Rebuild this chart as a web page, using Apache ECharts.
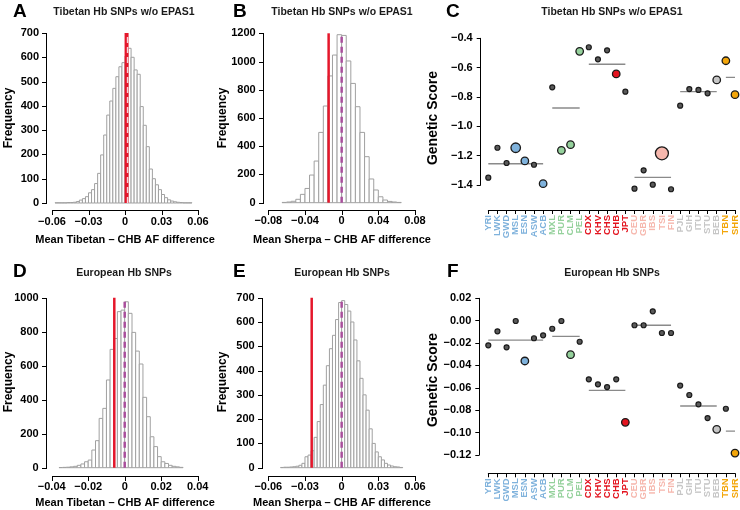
<!DOCTYPE html>
<html><head><meta charset="utf-8">
<script src="https://cdn.jsdelivr.net/npm/echarts@6/dist/echarts.min.js"></script>
<style>html,body{margin:0;padding:0;background:#fff}#c{width:740px;height:510px}</style>
</head><body><div id="c"></div>
<script>
// ---------------- DATA ----------------
// Histogram A: Mean Tibetan - CHB AF difference (Tibetan Hb SNPs w/o EPAS1)
const histAStart = -0.0575, histABin = 0.0025;
const histACounts = [1,1,1,1,2,2,3,6,12,18,26,42,55,80,122,198,280,362,420,472,520,561,578,605,637,600,548,530,397,320,232,140,100,75,55,35,22,13,8,5,3,2,1,1,1];
const histAObserved = 0.0013, histANullMean = 0.0021;
const histAXTicks = [-0.06,-0.03,0,0.03,0.06], histAYTicks = [0,100,200,300,400,500,600,700];
// Histogram B: Mean Sherpa - CHB AF difference
const histBStart = -0.065, histBBin = 0.005;
const histBCounts = [2,5,10,24,59,101,196,295,498,685,898,1046,1190,1185,1004,845,680,498,326,168,90,42,19,9,5,2];
const histBObserved = -0.0142, histBNullMean = 0.0;
const histBXTicks = [-0.08,-0.04,0,0.04,0.08], histBYTicks = [0,200,400,600,800,1000,1200];
// Histogram D: Mean Tibetan - CHB AF difference (European Hb SNPs)
const histDStart = -0.036, histDBin = 0.002;
const histDCounts = [1,2,3,5,8,14,22,35,45,104,159,290,349,516,696,760,918,927,976,908,796,686,610,414,300,182,124,65,35,25,14,8,5,2];
const histDObserved = -0.0057, histDNullMean = 0.0;
const histDXTicks = [-0.04,-0.02,0,0.02,0.04], histDYTicks = [0,200,400,600,800,1000];
// Histogram E: Mean Sherpa - CHB AF difference (European Hb SNPs)
const histEStart = -0.05, histEBin = 0.0025;
const histECounts = [1,2,2,3,4,6,10,18,45,52,70,125,190,260,340,420,490,545,610,680,688,672,645,600,526,440,368,300,237,160,100,65,45,32,18,11,7,4,3,1];
const histEObserved = -0.0245, histENullMean = 0.0;
const histEXTicks = [-0.06,-0.03,0,0.03,0.06], histEYTicks = [0,100,200,300,400,500,600,700];

// Populations
const populations = ['YRI','LWK','GWD','MSL','ESN','ASW','ACB','MXL','PUR','CLM','PEL','CDX','KHV','CHS','CHB','JPT','CEU','GBR','IBS','TSI','FIN','PJL','GIH','ITU','STU','BEB','TBN','SHR'];
const popGroup = [0,0,0,0,0,0,0,1,1,1,1,2,2,2,2,2,3,3,3,3,3,4,4,4,4,4,5,5];
const groupColors = ['#7fb2dc','#95d19c','#e3141f','#f6b7ad','#c6c6c6','#f3a60a'];

// Panel C: genetic score, Tibetan Hb SNPs w/o EPAS1
const scoreC = [-1.350,-1.146,-1.250,-1.146,-1.236,-1.262,-1.391,-0.734,-1.164,-1.125,-0.489,-0.461,-0.543,-0.482,-0.643,-0.764,-1.425,-1.300,-1.398,-1.184,-1.429,-0.859,-0.746,-0.752,-0.775,-0.684,-0.553,-0.784];
const markerClassC = [0,0,0,2,1,0,1,0,1,1,1,0,0,0,1,0,0,0,0,3,0,0,0,0,0,1,1,1];
const groupMeanC = [-1.255,-0.875,-0.577,-1.348,-0.764,-0.666];

// Panel F: genetic score, European Hb SNPs
const scoreF = [-0.0220,-0.0095,-0.0238,-0.0003,-0.0360,-0.0157,-0.0131,-0.0072,-0.0003,-0.0304,-0.0188,-0.0524,-0.0569,-0.0593,-0.0524,-0.0908,-0.0041,-0.0041,0.0084,-0.0110,-0.0110,-0.0580,-0.0664,-0.0747,-0.0870,-0.0971,-0.0787,-0.1183];
const markerClassF = [0,0,0,0,1,0,0,0,0,1,0,0,0,0,0,1,0,0,0,0,0,0,0,0,0,1,0,1];
const groupMeanF = [-0.0173,-0.0140,-0.0622,-0.0041,-0.0762,-0.0986];

// ---------------- CHART ----------------
const FONT = '"Liberation Sans", Arial, Helvetica, sans-serif';
const minus = s => String(s).replace('-', '\u2212');
const chart = echarts.init(document.getElementById('c'), null, {renderer:'canvas'});

const boxA = {left:52, top:33, width:146, height:170};
const boxB = {left:268.3, top:33.3, width:146.7, height:169.4};
const boxC = {left:488.3, top:38.3, width:247.7, height:146.7};
const boxD = {left:51.7, top:297.7, width:146, height:170};
const boxE = {left:268.3, top:297.7, width:146.7, height:170};
const boxF = {left:488.3, top:298.3, width:247.7, height:156.7};

// Histogram data grids are widened to the left and bottom so the detached R-style axes
// fall inside them; their scales are extended by the same amount so the bars keep the
// exact pixel mapping of the labelled axis grids.
const EXT_L = 14, EXT_B = 16;
function extend(box, xt, yt) {
  const x0 = xt[0], x1 = xt[xt.length-1], y0 = yt[0], y1 = yt[yt.length-1];
  return {
    grid:{left:box.left - EXT_L, top:box.top, width:box.width + EXT_L, height:box.height + EXT_B},
    xmin: x0 - EXT_L * (x1 - x0) / box.width, xmax: x1,
    ymin: y0 - EXT_B * (y1 - y0) / box.height, ymax: y1
  };
}
const extA = extend(boxA, histAXTicks, histAYTicks);
const extB = extend(boxB, histBXTicks, histBYTicks);
const extD = extend(boxD, histDXTicks, histDYTicks);
const extE = extend(boxE, histEXTicks, histEYTicks);

// grids 0..5 data, grids 6..9 labelled axes for the histograms
const grids = [extA.grid, extB.grid, Object.assign({}, boxC), extD.grid, extE.grid, Object.assign({}, boxF),
  Object.assign({}, boxA), Object.assign({}, boxB), Object.assign({}, boxD), Object.assign({}, boxE)];

const mkLine = () => ({show:true, onZero:false, lineStyle:{color:'#000', width:1}});
const mkTick = () => ({show:true, length:4, inside:false, lineStyle:{color:'#000', width:1}});
const mkLbl = (extra) => Object.assign({show:true, color:'#000', fontFamily:FONT, fontWeight:'bold', fontSize:11}, extra);

function hiddenAxis(gi, min, max) {
  return {type:'value', gridIndex:gi, min, max, show:false, splitLine:{show:false},
    axisLine:{show:false, onZero:false}, axisTick:{show:false}, axisLabel:{show:false}};
}
function labelAxis(gi, ticks, offset, fmt, margin) {
  return {type:'value', gridIndex:gi, min:ticks[0], max:ticks[ticks.length-1],
    interval: ticks[1]-ticks[0], offset,
    axisLine:{show:false, onZero:false}, axisTick:{show:false}, splitLine:{show:false},
    axisLabel:mkLbl({margin, formatter: fmt})};
}
function valAxis(gi, min, max, interval, offset, fmt, margin) {
  return {type:'value', gridIndex:gi, min, max, interval, offset,
    axisLine:mkLine(), axisTick:mkTick(), splitLine:{show:false},
    axisLabel:mkLbl({margin: margin || 6, formatter: fmt})};
}
const fmtHist = v => minus(parseFloat(Number(v).toFixed(4)));
const fmtInt = v => String(v);

function histSeries(gi, start, bin, counts) {
  return {
    type:'custom', xAxisIndex:gi, yAxisIndex:gi, silent:true, clip:false,
    data: counts.map((c,i) => [start + i*bin, c, start + (i+1)*bin]),
    renderItem: (params, api) => {
      const p0 = api.coord([api.value(0), 0]);
      const p1 = api.coord([api.value(2), api.value(1)]);
      return {type:'rect',
        shape:{x:p0[0], y:p1[1], width:p1[0]-p0[0], height:p0[1]-p1[1]},
        style:{fill:'#fff', stroke:'#a0a0a0', lineWidth:1}};
    }
  };
}
// detached axis lines and ticks, drawn as thin filled rects through the grid's scales
function axisSeries(gi, xt, yt, xo, yo) {
  const items = [];
  items.push([xt[0], yt[0], 0, 0]);               // x axis line
  xt.forEach(t => items.push([xt[0], yt[0], t, 1])); // x ticks
  items.push([xt[0], yt[0], 0, 2]);               // y axis line
  yt.forEach(t => items.push([xt[0], yt[0], t, 3])); // y ticks
  return {type:'custom', xAxisIndex:gi, yAxisIndex:gi, silent:true, clip:false, z:10,
    data: items,
    renderItem: (params, api) => {
      const t = api.value(2), kind = api.value(3);
      const o = api.coord([xt[0], yt[0]]);
      const yl = Math.round(o[1] + xo);
      const xl = Math.round(o[0] - yo);
      let shape;
      if (kind === 0) {
        const e = api.coord([xt[xt.length-1], yt[0]]);
        shape = {x:Math.round(o[0]), y:yl, width:Math.round(e[0]) - Math.round(o[0]) + 1, height:1};
      } else if (kind === 1) {
        const p = api.coord([t, yt[0]]);
        shape = {x:Math.round(p[0]), y:yl, width:1, height:5};
      } else if (kind === 2) {
        const e = api.coord([xt[0], yt[yt.length-1]]);
        shape = {x:xl, y:Math.round(e[1]), width:1, height:Math.round(o[1]) - Math.round(e[1]) + 1};
      } else {
        const p = api.coord([xt[0], t]);
        shape = {x:xl - 4, y:Math.round(p[1]), width:5, height:1};
      }
      return {type:'rect', shape, style:{fill:'#000'}};
    }
  };
}
function vline(gi, x, ymax, color, width, dashed) {
  return {type:'line', xAxisIndex:gi, yAxisIndex:gi, silent:true, symbol:'none',
    data:[[x,0],[x,ymax]], z:5,
    lineStyle:{color, width, type: dashed ? [6,4] : 'solid'}};
}

function catX(gi, offset) {
  return {type:'category', gridIndex:gi, data:populations, boundaryGap:false, offset,
    axisLine:mkLine(), axisTick:Object.assign(mkTick(), {interval:0}), splitLine:{show:false},
    axisLabel:{rotate:90, interval:0, margin:5, fontFamily:FONT, fontWeight:'bold', fontSize:9.5,
      color:(v) => groupColors[popGroup[populations.indexOf(v)]]}};
}
const sizeByClass = [5, 7.5, 9.5, 13];
function scatterSeries(gi, scores, classes) {
  return {type:'scatter', xAxisIndex:gi, yAxisIndex:gi, clip:false, silent:true, z:4,
    data: scores.map((s,i) => {
      const cls = classes[i];
      const col = groupColors[popGroup[i]];
      return {value:[i, s], symbolSize:sizeByClass[cls],
        itemStyle:{color: cls === 0 ? '#5a5a5a' : col, borderColor:'#1a1a1a', borderWidth: cls===0 ? 1.2 : 1.3, opacity:1}};
    })};
}
function meanSeries(gi, means) {
  const out = [];
  for (let g = 0; g < means.length; g++) {
    let first = -1, last = -1;
    popGroup.forEach((pg,i) => { if (pg === g) { if (first < 0) first = i; last = i; } });
    out.push({type:'line', xAxisIndex:gi, yAxisIndex:gi, silent:true, symbol:'none', z:3,
      data:[[first, means[g]],[last, means[g]]], lineStyle:{color:'#8a8a8a', width:1.3}});
  }
  return out;
}

const xAxes = [
  hiddenAxis(0, extA.xmin, extA.xmax),
  hiddenAxis(1, extB.xmin, extB.xmax),
  catX(2, 25),
  hiddenAxis(3, extD.xmin, extD.xmax),
  hiddenAxis(4, extE.xmin, extE.xmax),
  catX(5, 18.3),
  labelAxis(6, histAXTicks, 7, fmtHist, 6),
  labelAxis(7, histBXTicks, 7, fmtHist, 6),
  labelAxis(8, histDXTicks, 8, fmtHist, 6),
  labelAxis(9, histEXTicks, 8, fmtHist, 6)
];
const yAxes = [
  hiddenAxis(0, extA.ymin, extA.ymax),
  hiddenAxis(1, extB.ymin, extB.ymax),
  valAxis(2, -1.4, -0.4, 0.2, 7.6, v => minus(Number(v).toFixed(1)), 8),
  hiddenAxis(3, extD.ymin, extD.ymax),
  hiddenAxis(4, extE.ymin, extE.ymax),
  valAxis(5, -0.12, 0.02, 0.02, 9, v => minus(Number(v).toFixed(2)), 8),
  labelAxis(6, histAYTicks, 6, fmtInt, 7),
  labelAxis(7, histBYTicks, 5.6, fmtInt, 7),
  labelAxis(8, histDYTicks, 6, fmtInt, 7),
  labelAxis(9, histEYTicks, 6.6, fmtInt, 7)
];

const RED = '#e5172b', PURPLE = '#a94f9c';
const series = [
  histSeries(0, histAStart, histABin, histACounts),
  vline(0, histAObserved, 700, RED, 4, false),
  vline(0, histANullMean, 700, '#f6d3da', 1.5, true),
  axisSeries(0, histAXTicks, histAYTicks, 7, 6),
  histSeries(1, histBStart, histBBin, histBCounts),
  vline(1, histBObserved, 1200, RED, 2.5, false),
  vline(1, histBNullMean, 1200, PURPLE, 2.5, true),
  axisSeries(1, histBXTicks, histBYTicks, 7, 5.6),
  histSeries(3, histDStart, histDBin, histDCounts),
  vline(3, histDObserved, 1000, RED, 2.5, false),
  vline(3, histDNullMean, 1000, PURPLE, 2.5, true),
  axisSeries(3, histDXTicks, histDYTicks, 8, 6),
  histSeries(4, histEStart, histEBin, histECounts),
  vline(4, histEObserved, 700, RED, 2.5, false),
  vline(4, histENullMean, 700, PURPLE, 2.5, true),
  axisSeries(4, histEXTicks, histEYTicks, 8, 6.6),
  ...meanSeries(2, groupMeanC),
  scatterSeries(2, scoreC, markerClassC),
  ...meanSeries(5, groupMeanF),
  scatterSeries(5, scoreF, markerClassF)
];

function txt(text, x, y, size, opts) {
  opts = opts || {};
  return {type:'text', x, y, rotation: opts.rot || 0, silent:true,
    style:{text, x:0, y:0, fill: opts.color || '#000', font:`bold ${size}px ${FONT}`,
      textAlign: opts.align || 'center', textVerticalAlign:'middle'}};
}
const R = Math.PI/2;
const graphics = [
  txt('A', 13, 12, 19, {align:'left'}),
  txt('B', 233, 12, 19, {align:'left'}),
  txt('C', 446, 12, 19, {align:'left'}),
  txt('D', 13, 272, 19, {align:'left'}),
  txt('E', 233, 272, 19, {align:'left'}),
  txt('F', 447, 272, 19, {align:'left'}),
  txt('Tibetan Hb SNPs w/o EPAS1', 124, 12.5, 10.5, {color:'#1a1a1a'}),
  txt('Tibetan Hb SNPs w/o EPAS1', 342, 12.5, 10.5, {color:'#1a1a1a'}),
  txt('Tibetan Hb SNPs w/o EPAS1', 612, 12.5, 10.5, {color:'#1a1a1a'}),
  txt('European Hb SNPs', 124, 273, 10.5, {color:'#1a1a1a'}),
  txt('European Hb SNPs', 342, 273, 10.5, {color:'#1a1a1a'}),
  txt('European Hb SNPs', 612, 273, 10.5, {color:'#1a1a1a'}),
  txt('Frequency', 9, 118, 12, {rot:R}),
  txt('Frequency', 223, 118, 12, {rot:R}),
  txt('Genetic Score', 433, 118, 14, {rot:R}),
  txt('Frequency', 9, 382, 12, {rot:R}),
  txt('Frequency', 223, 382, 12, {rot:R}),
  txt('Genetic Score', 433, 380, 14, {rot:R}),
  txt('Mean Tibetan \u2013 CHB AF difference', 125, 240, 11),
  txt('Mean Sherpa \u2013 CHB AF difference', 342, 240, 11),
  txt('Mean Tibetan \u2013 CHB AF difference', 125, 503, 11),
  txt('Mean Sherpa \u2013 CHB AF difference', 342, 503, 11)
];

chart.setOption({
  animation:false,
  backgroundColor:'#fff',
  grid:grids, xAxis:xAxes, yAxis:yAxes, series, graphic:graphics
});
</script></body></html>
